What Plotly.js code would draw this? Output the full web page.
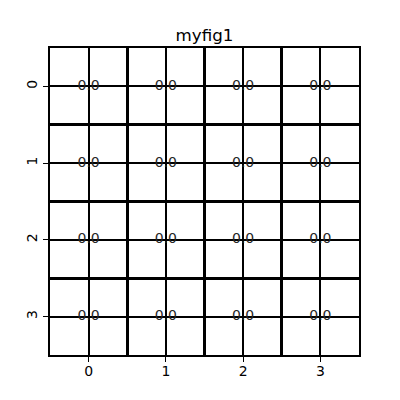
<!DOCTYPE html>
<html>
<head>
<meta charset="utf-8">
<script src="https://cdn.plot.ly/plotly-3.0.1.min.js"></script>
<style>html,body{margin:0;padding:0;background:#fff;}#chart{width:400px;height:400px;}</style>
</head>
<body>
<div id="chart"></div>
<script>
const xCats = [0, 1, 2, 3];
const yCats = [0, 1, 2, 3];
const values = [
  [0.0, 0.0, 0.0, 0.0],
  [0.0, 0.0, 0.0, 0.0],
  [0.0, 0.0, 0.0, 0.0],
  [0.0, 0.0, 0.0, 0.0]
];
const titleText = 'myfig1';

const annText = [], annX = [], annY = [];
yCats.forEach((y, i) => xCats.forEach((x, j) => {
  annX.push(x); annY.push(y); annText.push(values[i][j].toFixed(1));
}));

const traces = [
  {
    type: 'heatmap', x: xCats, y: yCats, z: values,
    colorscale: [[0, 'rgba(255,255,255,0)'], [1, 'rgba(255,255,255,0)']],
    showscale: false, hoverinfo: 'skip'
  },
  {
    type: 'scatter', mode: 'text', x: annX, y: annY, text: annText,
    textfont: {family: 'DejaVu Sans', size: 14, color: '#262626'},
    textposition: 'middle center', hoverinfo: 'skip', showlegend: false
  }
];

const axisCommon = {
  showline: true, linecolor: 'black', linewidth: 2, mirror: true,
  ticks: 'outside', ticklen: 5, tickwidth: 1, tickcolor: 'black',
  showgrid: true, gridcolor: 'black', gridwidth: 2,
  zeroline: false,
  tickfont: {family: 'DejaVu Sans', size: 14, color: 'black'},
  minor: {tick0: 0.5, dtick: 1, showgrid: true, gridcolor: 'black', gridwidth: 3, ticks: ''},
  tickmode: 'array'
};

const layout = {
  width: 400, height: 400,
  margin: {l: 50, r: 41, t: 48, b: 45},
  paper_bgcolor: 'white', plot_bgcolor: 'white',
  title: {text: titleText, font: {family: 'DejaVu Sans', size: 16.7, color: 'black'}, x: 0.5, xref: 'paper', y: 0.912, yanchor: 'middle'},
  xaxis: Object.assign({}, axisCommon, {range: [-0.5, 3.5], tickvals: xCats, ticktext: xCats.map(String), ticklabelstandoff: -3}),
  yaxis: Object.assign({}, axisCommon, {range: [3.5, -0.5], tickvals: yCats, ticktext: yCats.map(String), tickangle: -90}),
  showlegend: false
};

Plotly.newPlot('chart', traces, layout, {staticPlot: true, displayModeBar: false});
</script>
</body>
</html>
